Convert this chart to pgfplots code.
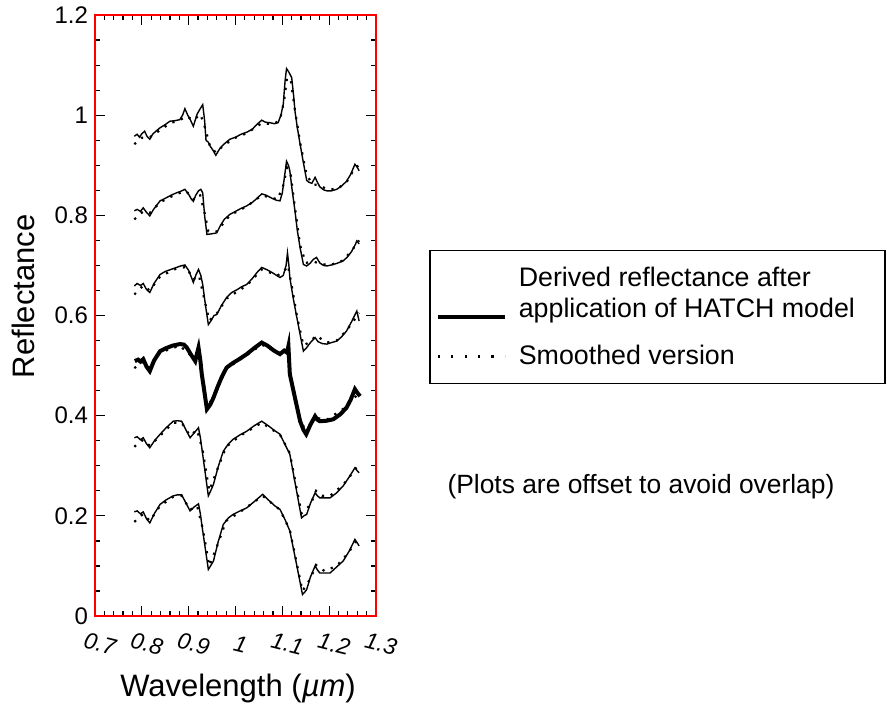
\documentclass[border=0pt]{standalone}
\usepackage{fontspec}
\setmainfont{Liberation Sans}
\usepackage{pgfplots}
\pgfplotsset{compat=1.18}

\pgfplotsset{
  spec/.style={black, line width=0.7pt, line join=miter},
  smooth spec/.style={black, line width=1.1pt, dash pattern=on 1.1pt off 3.4pt},
}

\begin{document}
\begin{tikzpicture}
\begin{axis}[
  scale only axis,
  width=140.5pt, height=300.5pt,
  xmin=0.7, xmax=1.3, ymin=0, ymax=1.2,
  xtick={0.7,0.8,0.9,1,1.1,1.2,1.3},
  ytick={0,0.2,0.4,0.6,0.8,1,1.2},
  minor x tick num=4,
  minor y tick num=3,
  tick align=inside,
  major tick length=5pt,
  minor tick length=2.5pt,
  tick style={black, line width=0.6pt},
  axis line style={red, line width=0.7pt},
  /pgf/number format/assume math mode=true,
  yticklabel style={font=\fontsize{12}{14}\selectfont},
  xticklabel style={font=\itshape\fontsize{11.5}{14}\selectfont, anchor=center, yshift=-14pt, xshift=2.5pt, rotate=-14},
  xlabel={Wavelength (\textit{µm})},
  ylabel={Reflectance},
  label style={font=\fontsize{15.5}{18}\selectfont},
  xlabel style={at={(axis description cs:0.509,-0.12)}, anchor=center},
  ylabel style={at={(axis description cs:-0.256,0.532)}, anchor=center, rotate=0},
  clip=false,
  legend style={
    at={(rel axis cs:1.189,0.609)}, anchor=north west,
    draw=black, line width=0.7pt,
    inner xsep=3pt, inner ysep=6pt,
    row sep=8.5pt, column sep=4pt,
    font=\fontsize{13.4}{15.5}\selectfont,
    cells={anchor=base west},
  },
]

% top spectrum
\addplot[spec, forget plot] coordinates {
(0.784,0.958) (0.790,0.962) (0.795,0.956) (0.800,0.963) (0.806,0.968) (0.811,0.958)
(0.817,0.952) (0.823,0.962) (0.830,0.968) (0.839,0.975) (0.848,0.980) (0.860,0.988)
(0.870,0.989) (0.881,0.991) (0.887,1.000) (0.892,1.013) (0.898,1.000) (0.904,0.990)
(0.910,0.978) (0.914,0.990) (0.918,1.002) (0.924,1.012) (0.930,1.021) (0.934,0.990)
(0.937,0.950) (0.942,0.946) (0.946,0.938) (0.952,0.930) (0.958,0.920) (0.963,0.928)
(0.967,0.934) (0.975,0.942) (0.988,0.952) (1.000,0.956) (1.012,0.962) (1.024,0.966)
(1.036,0.972) (1.046,0.982) (1.056,0.990) (1.064,0.986) (1.074,0.985) (1.083,0.983)
(1.091,0.985) (1.097,1.000) (1.102,1.022) (1.106,1.070) (1.109,1.093) (1.114,1.086)
(1.120,1.075) (1.124,1.040) (1.127,1.008) (1.132,0.975) (1.138,0.942) (1.145,0.905)
(1.152,0.870) (1.157,0.866) (1.163,0.864) (1.170,0.876) (1.175,0.866) (1.180,0.857)
(1.188,0.851) (1.195,0.849) (1.205,0.849) (1.216,0.852) (1.226,0.858) (1.237,0.868)
(1.246,0.882) (1.255,0.902) (1.260,0.896) (1.264,0.889)
};
\addplot[smooth spec, forget plot] coordinates {
(0.784,0.942) (0.800,0.955) (0.817,0.956) (0.839,0.970) (0.860,0.984) (0.881,0.990)
(0.895,0.998) (0.910,0.990) (0.925,1.002) (0.935,0.975) (0.945,0.940) (0.958,0.925)
(0.975,0.940) (1.000,0.955) (1.024,0.964) (1.056,0.984) (1.080,0.982) (1.095,0.990)
(1.104,1.030) (1.110,1.075) (1.118,1.070) (1.127,1.010) (1.138,0.945) (1.152,0.880)
(1.165,0.862) (1.180,0.860) (1.195,0.852) (1.216,0.852) (1.237,0.866) (1.255,0.895)
(1.264,0.900)
};

% second
\addplot[spec, forget plot] coordinates {
(0.784,0.809) (0.790,0.812) (0.797,0.808) (0.803,0.815) (0.810,0.806) (0.817,0.799)
(0.825,0.812) (0.839,0.829) (0.850,0.834) (0.862,0.840) (0.874,0.845) (0.883,0.848)
(0.892,0.852) (0.900,0.842) (0.906,0.832) (0.910,0.828) (0.915,0.840) (0.921,0.849)
(0.926,0.852) (0.930,0.845) (0.934,0.800) (0.939,0.762) (0.948,0.763) (0.960,0.765)
(0.968,0.780) (0.976,0.792) (0.988,0.802) (1.000,0.808) (1.012,0.814) (1.024,0.819)
(1.036,0.826) (1.046,0.834) (1.056,0.843) (1.066,0.840) (1.078,0.834) (1.088,0.830)
(1.095,0.829) (1.100,0.845) (1.105,0.880) (1.109,0.908) (1.113,0.900) (1.116,0.889)
(1.121,0.850) (1.127,0.809) (1.132,0.770) (1.138,0.735) (1.145,0.702) (1.152,0.699)
(1.160,0.705) (1.166,0.712) (1.173,0.716) (1.180,0.705) (1.188,0.700) (1.195,0.699)
(1.205,0.701) (1.216,0.704) (1.230,0.709) (1.240,0.718) (1.248,0.728) (1.252,0.735)
(1.256,0.742) (1.259,0.749) (1.264,0.743)
};
\addplot[smooth spec, forget plot] coordinates {
(0.784,0.792) (0.803,0.808) (0.817,0.805) (0.839,0.826) (0.874,0.843) (0.895,0.848)
(0.910,0.832) (0.924,0.842) (0.934,0.805) (0.942,0.768) (0.960,0.768) (0.988,0.800)
(1.024,0.818) (1.056,0.840) (1.090,0.832) (1.102,0.860) (1.110,0.895) (1.118,0.880)
(1.127,0.815) (1.138,0.740) (1.150,0.705) (1.165,0.708) (1.180,0.704) (1.200,0.700)
(1.230,0.710) (1.250,0.732) (1.264,0.750)
};

% third
\addplot[spec, forget plot] coordinates {
(0.784,0.659) (0.790,0.664) (0.797,0.660) (0.803,0.664) (0.810,0.652) (0.817,0.646)
(0.826,0.664) (0.839,0.682) (0.850,0.688) (0.862,0.692) (0.874,0.696) (0.883,0.699)
(0.892,0.701) (0.900,0.690) (0.906,0.676) (0.910,0.666) (0.915,0.680) (0.921,0.692)
(0.926,0.680) (0.930,0.662) (0.936,0.620) (0.942,0.582) (0.948,0.590) (0.954,0.600)
(0.960,0.602) (0.970,0.620) (0.981,0.636) (0.992,0.646) (1.004,0.652) (1.014,0.658)
(1.024,0.662) (1.036,0.674) (1.046,0.686) (1.056,0.696) (1.066,0.692) (1.078,0.686)
(1.088,0.680) (1.095,0.676) (1.102,0.680) (1.108,0.700) (1.111,0.725) (1.114,0.700)
(1.116,0.676) (1.123,0.636) (1.131,0.596) (1.138,0.562) (1.145,0.529) (1.152,0.536)
(1.160,0.546) (1.170,0.556) (1.176,0.548) (1.185,0.544) (1.195,0.543) (1.205,0.546)
(1.216,0.549) (1.226,0.557) (1.237,0.569) (1.248,0.588) (1.259,0.609) (1.264,0.589)
};
\addplot[smooth spec, forget plot] coordinates {
(0.784,0.642) (0.803,0.660) (0.817,0.650) (0.839,0.678) (0.874,0.694) (0.895,0.697)
(0.910,0.672) (0.922,0.680) (0.934,0.630) (0.944,0.590) (0.960,0.604) (0.981,0.634)
(1.024,0.660) (1.056,0.692) (1.090,0.680) (1.105,0.690) (1.112,0.700) (1.120,0.660)
(1.131,0.600) (1.145,0.540) (1.160,0.548) (1.172,0.560) (1.195,0.546) (1.216,0.550)
(1.237,0.570) (1.259,0.598) (1.264,0.605)
};

% fourth (heavy)
\addplot[smooth spec, forget plot] coordinates {
(0.784,0.495) (0.803,0.508) (0.817,0.495) (0.839,0.526) (0.881,0.540) (0.914,0.512)
(0.928,0.490) (0.940,0.418) (0.953,0.438) (0.981,0.494) (1.024,0.521) (1.056,0.542)
(1.095,0.525) (1.112,0.520) (1.120,0.470) (1.138,0.392) (1.151,0.368) (1.170,0.396)
(1.195,0.392) (1.237,0.418) (1.264,0.446)
};
\addplot[spec, line width=2pt, forget plot] coordinates {
(0.785,0.509) (0.792,0.512) (0.797,0.508) (0.803,0.513) (0.810,0.498) (0.817,0.489)
(0.826,0.510) (0.839,0.529) (0.852,0.535) (0.866,0.540) (0.881,0.543) (0.890,0.542)
(0.896,0.536) (0.905,0.522) (0.914,0.509) (0.918,0.525) (0.921,0.536) (0.925,0.510)
(0.928,0.483) (0.934,0.445) (0.939,0.413) (0.946,0.422) (0.953,0.436) (0.962,0.458)
(0.971,0.478) (0.981,0.496) (0.994,0.505) (1.008,0.513) (1.024,0.523) (1.040,0.535)
(1.056,0.546) (1.068,0.540) (1.082,0.530) (1.095,0.523) (1.104,0.530) (1.110,0.526)
(1.113,0.539) (1.116,0.483) (1.126,0.440) (1.138,0.389) (1.145,0.372) (1.151,0.363)
(1.160,0.382) (1.170,0.399) (1.175,0.392) (1.180,0.389) (1.195,0.390) (1.209,0.393)
(1.224,0.403) (1.237,0.416) (1.246,0.432) (1.255,0.453) (1.260,0.446) (1.266,0.439)
};

% fifth
\addplot[spec, forget plot] coordinates {
(0.784,0.356) (0.790,0.358) (0.797,0.352) (0.803,0.356) (0.810,0.344) (0.817,0.336)
(0.827,0.350) (0.839,0.363) (0.852,0.376) (0.867,0.389) (0.876,0.390) (0.885,0.389)
(0.894,0.372) (0.903,0.356) (0.912,0.366) (0.921,0.376) (0.925,0.356) (0.928,0.336)
(0.935,0.288) (0.942,0.240) (0.948,0.252) (0.953,0.263) (0.963,0.298) (0.974,0.329)
(0.985,0.344) (0.995,0.353) (1.010,0.362) (1.024,0.369) (1.040,0.380) (1.056,0.389)
(1.070,0.380) (1.084,0.370) (1.095,0.363) (1.105,0.344) (1.116,0.323) (1.128,0.262)
(1.141,0.196) (1.146,0.200) (1.152,0.203) (1.160,0.225) (1.170,0.246) (1.175,0.240)
(1.180,0.236) (1.190,0.236) (1.202,0.236) (1.216,0.246) (1.230,0.260) (1.243,0.278)
(1.255,0.296) (1.260,0.290) (1.264,0.286)
};
\addplot[smooth spec, forget plot] coordinates {
(0.784,0.338) (0.803,0.352) (0.817,0.340) (0.839,0.360) (0.867,0.386) (0.885,0.386)
(0.903,0.360) (0.918,0.372) (0.930,0.330) (0.944,0.250) (0.960,0.290) (0.980,0.338)
(1.010,0.360) (1.056,0.386) (1.095,0.362) (1.116,0.325) (1.141,0.205) (1.160,0.222)
(1.172,0.250) (1.185,0.240) (1.202,0.240) (1.230,0.262) (1.255,0.292) (1.264,0.305)
};

% sixth
\addplot[spec, forget plot] coordinates {
(0.784,0.208) (0.790,0.210) (0.797,0.204) (0.803,0.208) (0.810,0.194) (0.817,0.186)
(0.827,0.205) (0.839,0.223) (0.852,0.232) (0.867,0.240) (0.876,0.242) (0.885,0.242)
(0.894,0.226) (0.903,0.210) (0.912,0.218) (0.921,0.224) (0.925,0.204) (0.928,0.183)
(0.935,0.138) (0.942,0.093) (0.948,0.102) (0.953,0.110) (0.963,0.148) (0.974,0.183)
(0.985,0.196) (0.995,0.203) (1.010,0.210) (1.024,0.216) (1.042,0.230) (1.058,0.243)
(1.070,0.232) (1.084,0.220) (1.095,0.213) (1.106,0.192) (1.116,0.170) (1.130,0.105)
(1.143,0.043) (1.148,0.048) (1.152,0.053) (1.160,0.078) (1.170,0.100) (1.175,0.092)
(1.180,0.086) (1.190,0.086) (1.202,0.086) (1.216,0.098) (1.230,0.110) (1.243,0.130)
(1.255,0.153) (1.260,0.146) (1.264,0.140)
};
\addplot[smooth spec, forget plot] coordinates {
(0.784,0.188) (0.803,0.204) (0.817,0.190) (0.839,0.220) (0.867,0.238) (0.885,0.240)
(0.903,0.212) (0.918,0.220) (0.930,0.175) (0.944,0.100) (0.960,0.138) (0.980,0.190)
(1.010,0.208) (1.058,0.240) (1.095,0.212) (1.116,0.172) (1.143,0.050) (1.160,0.075)
(1.172,0.102) (1.190,0.090) (1.216,0.100) (1.240,0.125) (1.264,0.158)
};

\addlegendimage{legend image code/.code={\draw[black, line width=2pt] (0pt,0pt) -- (33.5pt,0pt);}}
\addlegendentry{\parbox[b]{178pt}{Derived reflectance after\\application of HATCH model}}
\addlegendimage{legend image code/.code={\draw[black, line width=1.1pt, dash pattern=on 1.1pt off 5.6pt] (0pt,4pt) -- (33.5pt,4pt);}}
\addlegendentry{Smoothed version}

\node[font=\fontsize{13.2}{15.5}\selectfont, anchor=center] at (rel axis cs:1.943,0.216) {(Plots are offset to avoid overlap)};
\end{axis}
\path (current axis.south west) ++(-47.5pt,-45.5pt) rectangle ++(443.5pt,353pt);
\end{tikzpicture}
\end{document}
